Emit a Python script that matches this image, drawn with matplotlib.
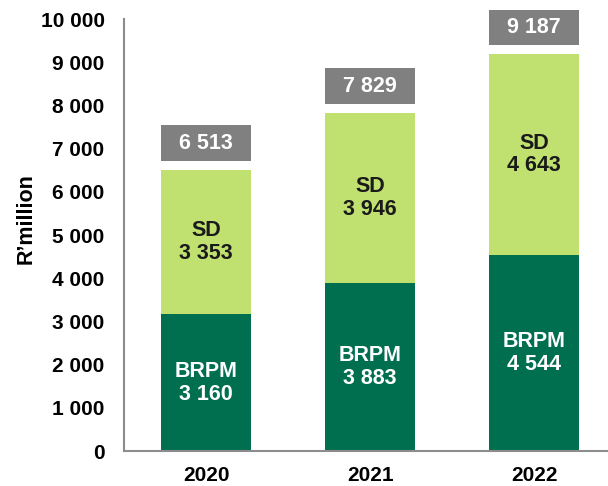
import matplotlib.pyplot as plt

plt.rcParams['font.family'] = ['Liberation Sans', 'DejaVu Sans']
plt.rcParams['font.weight'] = 'bold'

years = ['2020', '2021', '2022']
brpm = [3160, 3883, 4544]
sd = [3353, 3946, 4643]
totals = [6513, 7829, 9187]


def fmt(v):
    return f'{v:,}'.replace(',', ' ')


fig = plt.figure(figsize=(6.08, 4.86), dpi=100)
ax = fig.add_axes([124 / 608, 35 / 486, 484 / 608, 432 / 486])

x = range(len(years))
ax.bar(x, brpm, width=0.55, color='#006F4F')
ax.bar(x, sd, width=0.55, bottom=brpm, color='#C0E070')

for i in x:
    ax.text(i, brpm[i] / 2, 'BRPM\n' + fmt(brpm[i]), ha='center', va='center',
            color='white', fontsize=15.5, fontweight='bold', linespacing=1.1)
    ax.text(i, brpm[i] + sd[i] / 2, 'SD\n' + fmt(sd[i]), ha='center', va='center',
            color='#1a1a1a', fontsize=15.5, fontweight='bold', linespacing=1.1)
    ax.bar(i, 830, width=0.55, bottom=totals[i] + 200, color='#808080', clip_on=False)
    ax.text(i, totals[i] + 200 + 415, fmt(totals[i]), ha='center', va='center',
            color='white', fontsize=15.5, fontweight='bold')

ax.set_xlim(-0.5, 2.45)
ax.set_ylim(0, 10000)
ax.set_yticks(range(0, 10001, 1000))
ax.set_yticklabels([fmt(v) for v in range(0, 10001, 1000)], fontsize=15, fontweight='bold')
ax.set_xticks(list(x))
ax.set_xticklabels(years, fontsize=15, fontweight='bold')
ax.tick_params(length=0)
ax.tick_params(axis='y', pad=14)
ax.tick_params(axis='x', pad=11)
ax.set_ylabel('R’million', fontsize=15.5, fontweight='bold')
ax.yaxis.set_label_coords(-0.18, 0.539)

for s in ['top', 'right']:
    ax.spines[s].set_visible(False)
for s in ['left', 'bottom']:
    ax.spines[s].set_color('#8c8c8c')
    ax.spines[s].set_linewidth(1.5)

fig.savefig('out.png', dpi=100)
